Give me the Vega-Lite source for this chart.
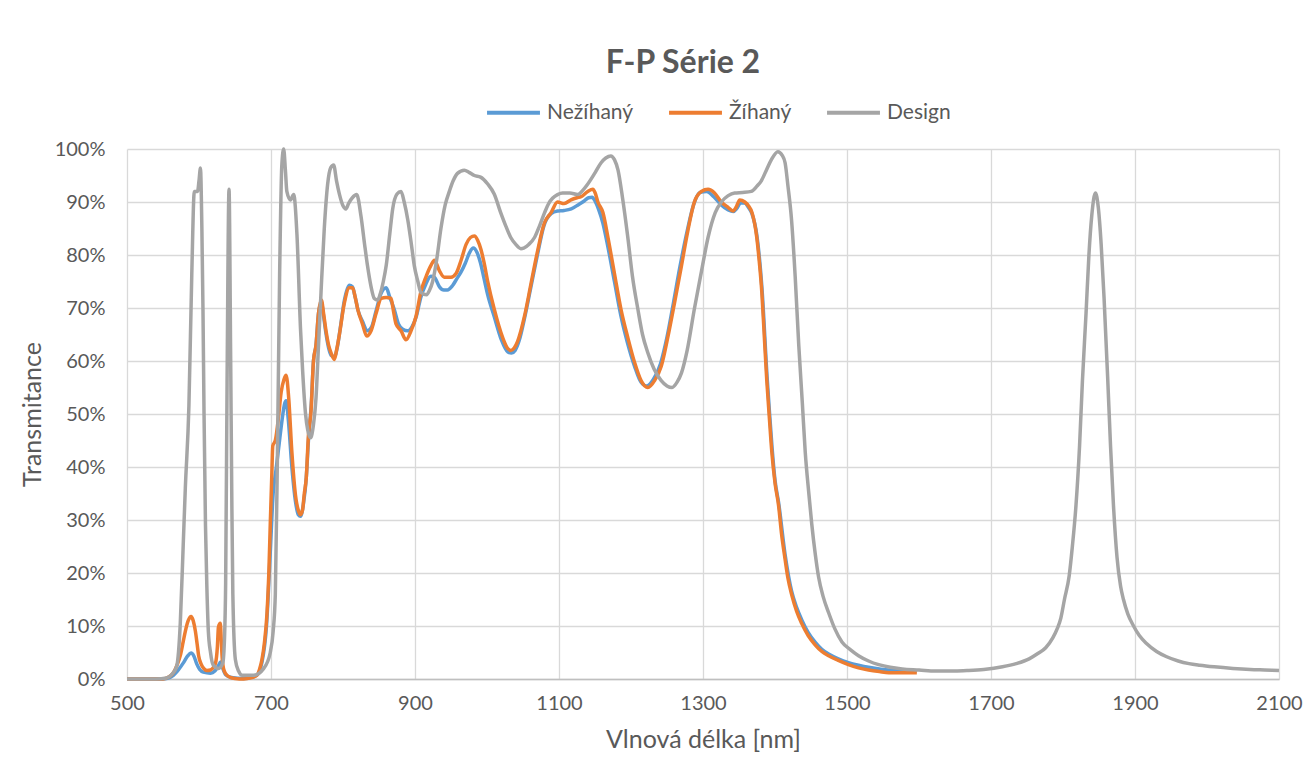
{
  "$schema": "https://vega.github.io/schema/vega-lite/v6.json",
  "autosize": "none",
  "width": 1152,
  "height": 530,
  "padding": {"left": 127, "top": 149, "right": 28, "bottom": 99},
  "background": "white",
  "title": {"text": "F-P Série 2", "fontSize": 32, "fontWeight": "bold", "color": "#595959", "font": "Lato", "anchor": "middle", "dx": -20, "offset": 4},
  "config": {
    "view": {"stroke": null},
    "font": "Lato",
    "axis": {"labelColor": "#595959", "titleColor": "#595959", "labelFont": "Lato", "titleFont": "Lato", "gridColor": "#d9d9d9", "gridWidth": 1.3, "ticks": false, "titleFontWeight": "normal"},
    "legend": {"labelFont": "Lato"}
  },
  "datasets": {
    "d": [
      {"s":"Design","x":500,"y":0},{"s":"Design","x":540,"y":0},{"s":"Design","x":555,"y":0.2},{"s":"Design","x":563,"y":1},{"s":"Design","x":569,"y":2.4},{"s":"Design","x":574,"y":10.5},{"s":"Design","x":578,"y":25},{"s":"Design","x":581,"y":36},{"s":"Design","x":586,"y":51.6},{"s":"Design","x":590,"y":76.5},{"s":"Design","x":593.5,"y":92},{"s":"Design","x":598,"y":92},{"s":"Design","x":600,"y":94},{"s":"Design","x":602,"y":96.4},{"s":"Design","x":604,"y":85},{"s":"Design","x":605.5,"y":70},{"s":"Design","x":607,"y":50},{"s":"Design","x":609,"y":29},{"s":"Design","x":611,"y":17},{"s":"Design","x":613,"y":9},{"s":"Design","x":616,"y":5},{"s":"Design","x":619.5,"y":2.7},{"s":"Design","x":627,"y":2},{"s":"Design","x":633,"y":3},{"s":"Design","x":635.5,"y":8},{"s":"Design","x":637,"y":18},{"s":"Design","x":639,"y":56},{"s":"Design","x":641.7,"y":92.4},{"s":"Design","x":644,"y":60},{"s":"Design","x":645.5,"y":35},{"s":"Design","x":647,"y":16},{"s":"Design","x":650.5,"y":3.7},{"s":"Design","x":655,"y":1.5},{"s":"Design","x":660,"y":0.7},{"s":"Design","x":676,"y":0.7},{"s":"Design","x":690,"y":2},{"s":"Design","x":699,"y":5},{"s":"Design","x":703,"y":9},{"s":"Design","x":706,"y":16},{"s":"Design","x":709,"y":43},{"s":"Design","x":712,"y":76.5},{"s":"Design","x":715,"y":96.8},{"s":"Design","x":717.6,"y":100},{"s":"Design","x":720,"y":96},{"s":"Design","x":722,"y":92},{"s":"Design","x":727,"y":90.4},{"s":"Design","x":731.5,"y":91.4},{"s":"Design","x":736,"y":84},{"s":"Design","x":741,"y":66},{"s":"Design","x":744,"y":58},{"s":"Design","x":748,"y":50},{"s":"Design","x":751,"y":47},{"s":"Design","x":755,"y":45.5},{"s":"Design","x":759,"y":48},{"s":"Design","x":762.5,"y":53},{"s":"Design","x":766,"y":63},{"s":"Design","x":769.5,"y":73},{"s":"Design","x":774,"y":85},{"s":"Design","x":778.7,"y":93.4},{"s":"Design","x":783,"y":96.5},{"s":"Design","x":787,"y":97},{"s":"Design","x":791,"y":94},{"s":"Design","x":795,"y":91.5},{"s":"Design","x":800,"y":89.3},{"s":"Design","x":804,"y":88.7},{"s":"Design","x":808,"y":89.8},{"s":"Design","x":813,"y":90.8},{"s":"Design","x":819,"y":91.4},{"s":"Design","x":825,"y":87.3},{"s":"Design","x":830,"y":82},{"s":"Design","x":834,"y":78},{"s":"Design","x":839,"y":74},{"s":"Design","x":843.5,"y":71.8},{"s":"Design","x":848,"y":71.5},{"s":"Design","x":852,"y":72.8},{"s":"Design","x":856,"y":75},{"s":"Design","x":860,"y":78},{"s":"Design","x":865,"y":84},{"s":"Design","x":869,"y":88.7},{"s":"Design","x":875,"y":91.5},{"s":"Design","x":880.6,"y":92},{"s":"Design","x":885,"y":90},{"s":"Design","x":890,"y":86.6},{"s":"Design","x":895,"y":82},{"s":"Design","x":899,"y":78},{"s":"Design","x":904,"y":75},{"s":"Design","x":908,"y":73},{"s":"Design","x":916,"y":72.5},{"s":"Design","x":920,"y":73.3},{"s":"Design","x":924.5,"y":75},{"s":"Design","x":930,"y":79},{"s":"Design","x":936,"y":85},{"s":"Design","x":942,"y":89.5},{"s":"Design","x":947.7,"y":92},{"s":"Design","x":953,"y":94},{"s":"Design","x":959,"y":95.4},{"s":"Design","x":968.5,"y":96},{"s":"Design","x":975,"y":95.6},{"s":"Design","x":982.5,"y":95},{"s":"Design","x":991,"y":94.7},{"s":"Design","x":1001,"y":93.4},{"s":"Design","x":1010,"y":91.5},{"s":"Design","x":1019,"y":88},{"s":"Design","x":1026,"y":85.5},{"s":"Design","x":1033,"y":83.3},{"s":"Design","x":1040,"y":82},{"s":"Design","x":1047,"y":81.2},{"s":"Design","x":1051,"y":81.3},{"s":"Design","x":1058,"y":82},{"s":"Design","x":1066,"y":83.3},{"s":"Design","x":1073,"y":85.5},{"s":"Design","x":1080,"y":88},{"s":"Design","x":1086,"y":89.8},{"s":"Design","x":1091,"y":90.7},{"s":"Design","x":1098,"y":91.4},{"s":"Design","x":1105,"y":91.7},{"s":"Design","x":1115,"y":91.7},{"s":"Design","x":1126,"y":91.4},{"s":"Design","x":1133,"y":92.2},{"s":"Design","x":1140,"y":93.4},{"s":"Design","x":1150,"y":95.5},{"s":"Design","x":1158.5,"y":97.4},{"s":"Design","x":1165,"y":98.3},{"s":"Design","x":1172,"y":98.7},{"s":"Design","x":1177,"y":98},{"s":"Design","x":1182,"y":96},{"s":"Design","x":1188,"y":91},{"s":"Design","x":1195.6,"y":83.3},{"s":"Design","x":1202,"y":76},{"s":"Design","x":1209.5,"y":69.8},{"s":"Design","x":1216,"y":65},{"s":"Design","x":1223,"y":61.7},{"s":"Design","x":1232,"y":58.5},{"s":"Design","x":1242,"y":56.3},{"s":"Design","x":1250,"y":55.3},{"s":"Design","x":1257,"y":55},{"s":"Design","x":1264,"y":56},{"s":"Design","x":1270,"y":57.7},{"s":"Design","x":1278,"y":62},{"s":"Design","x":1288,"y":69.8},{"s":"Design","x":1298,"y":77},{"s":"Design","x":1307,"y":83.3},{"s":"Design","x":1317,"y":88},{"s":"Design","x":1325.5,"y":90},{"s":"Design","x":1335,"y":91.2},{"s":"Design","x":1344,"y":91.7},{"s":"Design","x":1355,"y":91.8},{"s":"Design","x":1367,"y":92},{"s":"Design","x":1375,"y":93},{"s":"Design","x":1381,"y":94},{"s":"Design","x":1388,"y":96},{"s":"Design","x":1395,"y":98},{"s":"Design","x":1404,"y":99.5},{"s":"Design","x":1410,"y":98.8},{"s":"Design","x":1414,"y":97.4},{"s":"Design","x":1418,"y":93},{"s":"Design","x":1423,"y":86.6},{"s":"Design","x":1428,"y":76},{"s":"Design","x":1433,"y":63},{"s":"Design","x":1438,"y":52},{"s":"Design","x":1442,"y":42.8},{"s":"Design","x":1447,"y":35},{"s":"Design","x":1451,"y":29.3},{"s":"Design","x":1456,"y":23.5},{"s":"Design","x":1460.6,"y":19.2},{"s":"Design","x":1467,"y":15.5},{"s":"Design","x":1474.5,"y":12.5},{"s":"Design","x":1483,"y":9.5},{"s":"Design","x":1493,"y":7},{"s":"Design","x":1505,"y":5.5},{"s":"Design","x":1516,"y":4.4},{"s":"Design","x":1530,"y":3.4},{"s":"Design","x":1544,"y":2.7},{"s":"Design","x":1560,"y":2.2},{"s":"Design","x":1576.6,"y":1.9},{"s":"Design","x":1600,"y":1.7},{"s":"Design","x":1623,"y":1.5},{"s":"Design","x":1650,"y":1.5},{"s":"Design","x":1669,"y":1.6},{"s":"Design","x":1690,"y":1.8},{"s":"Design","x":1716,"y":2.3},{"s":"Design","x":1735,"y":2.9},{"s":"Design","x":1753,"y":3.8},{"s":"Design","x":1765,"y":4.8},{"s":"Design","x":1776,"y":5.9},{"s":"Design","x":1786,"y":7.8},{"s":"Design","x":1792,"y":9.5},{"s":"Design","x":1797,"y":11.5},{"s":"Design","x":1802,"y":15},{"s":"Design","x":1808.6,"y":19.5},{"s":"Design","x":1813,"y":25},{"s":"Design","x":1818,"y":32.7},{"s":"Design","x":1823,"y":44},{"s":"Design","x":1827,"y":56.3},{"s":"Design","x":1832,"y":69},{"s":"Design","x":1836,"y":80},{"s":"Design","x":1840,"y":87.5},{"s":"Design","x":1845,"y":91.7},{"s":"Design","x":1849,"y":89},{"s":"Design","x":1853,"y":82},{"s":"Design","x":1857,"y":72},{"s":"Design","x":1862,"y":57},{"s":"Design","x":1866,"y":44},{"s":"Design","x":1870,"y":33},{"s":"Design","x":1875,"y":23},{"s":"Design","x":1880,"y":17.5},{"s":"Design","x":1884,"y":15},{"s":"Design","x":1890,"y":12.3},{"s":"Design","x":1898,"y":10},{"s":"Design","x":1906,"y":8.2},{"s":"Design","x":1916,"y":6.7},{"s":"Design","x":1930,"y":5.2},{"s":"Design","x":1944,"y":4.2},{"s":"Design","x":1960,"y":3.4},{"s":"Design","x":1975,"y":2.9},{"s":"Design","x":1990,"y":2.6},{"s":"Design","x":2010,"y":2.3},{"s":"Design","x":2036,"y":2},{"s":"Design","x":2060,"y":1.8},{"s":"Design","x":2080,"y":1.7},{"s":"Design","x":2100,"y":1.6},

      {"s":"Žíhaný","x":500,"y":0},{"s":"Žíhaný","x":550,"y":0},{"s":"Žíhaný","x":558,"y":0.4},{"s":"Žíhaný","x":565,"y":1.3},{"s":"Žíhaný","x":570,"y":2.8},{"s":"Žíhaný","x":574,"y":4.4},{"s":"Žíhaný","x":578,"y":7},{"s":"Žíhaný","x":581,"y":9},{"s":"Žíhaný","x":585,"y":11},{"s":"Žíhaný","x":589,"y":11.8},{"s":"Žíhaný","x":592,"y":11},{"s":"Žíhaný","x":595,"y":9},{"s":"Žíhaný","x":597.5,"y":6.5},{"s":"Žíhaný","x":599.5,"y":4.4},{"s":"Žíhaný","x":603,"y":2.8},{"s":"Žíhaný","x":606.5,"y":2},{"s":"Žíhaný","x":611,"y":1.6},{"s":"Žíhaný","x":616,"y":1.7},{"s":"Žíhaný","x":620,"y":2.2},{"s":"Žíhaný","x":623,"y":3},{"s":"Žíhaný","x":625.5,"y":6},{"s":"Žíhaný","x":627,"y":9.8},{"s":"Žíhaný","x":629.6,"y":10.5},{"s":"Žíhaný","x":631,"y":7},{"s":"Žíhaný","x":632,"y":4.4},{"s":"Žíhaný","x":634,"y":2},{"s":"Žíhaný","x":637,"y":1},{"s":"Žíhaný","x":643.5,"y":0.3},{"s":"Žíhaný","x":650,"y":0.1},{"s":"Žíhaný","x":662,"y":0},{"s":"Žíhaný","x":672,"y":0.2},{"s":"Žíhaný","x":680.6,"y":0.7},{"s":"Žíhaný","x":684,"y":1.8},{"s":"Žíhaný","x":687.5,"y":3.7},{"s":"Žíhaný","x":691,"y":7},{"s":"Žíhaný","x":694.5,"y":12.5},{"s":"Žíhaný","x":697,"y":20},{"s":"Žíhaný","x":699,"y":29.3},{"s":"Žíhaný","x":701,"y":38},{"s":"Žíhaný","x":702.5,"y":44},{"s":"Žíhaný","x":706,"y":45},{"s":"Žíhaný","x":710.6,"y":49.6},{"s":"Žíhaný","x":714,"y":54},{"s":"Žíhaný","x":718,"y":56.5},{"s":"Žíhaný","x":721,"y":57.3},{"s":"Žíhaný","x":724.6,"y":53},{"s":"Žíhaný","x":729,"y":42.8},{"s":"Žíhaný","x":734,"y":34.7},{"s":"Žíhaný","x":738,"y":31.8},{"s":"Žíhaný","x":741,"y":31},{"s":"Žíhaný","x":744,"y":32},{"s":"Žíhaný","x":746,"y":34.7},{"s":"Žíhaný","x":749,"y":38},{"s":"Žíhaný","x":752,"y":46},{"s":"Žíhaný","x":755.6,"y":50.5},{"s":"Žíhaný","x":759,"y":60},{"s":"Žíhaný","x":762.5,"y":63},{"s":"Žíhaný","x":766,"y":69},{"s":"Žíhaný","x":770,"y":71.5},{"s":"Žíhaný","x":773,"y":69},{"s":"Žíhaný","x":776.4,"y":65.7},{"s":"Žíhaný","x":780,"y":63},{"s":"Žíhaný","x":783,"y":61.7},{"s":"Žíhaný","x":788,"y":60.3},{"s":"Žíhaný","x":791,"y":62},{"s":"Žíhaný","x":795,"y":65},{"s":"Žíhaný","x":802,"y":71},{"s":"Žíhaný","x":808.8,"y":73.8},{"s":"Žíhaný","x":813.4,"y":73.8},{"s":"Žíhaný","x":817,"y":72},{"s":"Žíhaný","x":820.4,"y":69.8},{"s":"Žíhaný","x":827,"y":67},{"s":"Žíhaný","x":833,"y":64.7},{"s":"Žíhaný","x":839,"y":65.7},{"s":"Žíhaný","x":846,"y":69},{"s":"Žíhaný","x":853,"y":71.8},{"s":"Žíhaný","x":860,"y":72},{"s":"Žíhaný","x":866.7,"y":71.8},{"s":"Žíhaný","x":870,"y":69.5},{"s":"Žíhaný","x":873.6,"y":67},{"s":"Žíhaný","x":880.6,"y":65.7},{"s":"Žíhaný","x":887.5,"y":64},{"s":"Žíhaný","x":894.5,"y":65.7},{"s":"Žíhaný","x":901.4,"y":68.4},{"s":"Žíhaný","x":908,"y":73},{"s":"Žíhaný","x":915,"y":75.8},{"s":"Žíhaný","x":922,"y":78},{"s":"Žíhaný","x":927,"y":79},{"s":"Žíhaný","x":934,"y":77},{"s":"Žíhaný","x":940.8,"y":75.8},{"s":"Žíhaný","x":950,"y":75.8},{"s":"Žíhaný","x":957,"y":76.5},{"s":"Žíhaný","x":964,"y":79},{"s":"Žíhaný","x":971,"y":82},{"s":"Žíhaný","x":977,"y":83.3},{"s":"Žíhaný","x":982.5,"y":83.6},{"s":"Žíhaný","x":987,"y":82.8},{"s":"Žíhaný","x":991.7,"y":81},{"s":"Žíhaný","x":996,"y":78.5},{"s":"Žíhaný","x":1001,"y":75},{"s":"Žíhaný","x":1010,"y":69.8},{"s":"Žíhaný","x":1021.8,"y":64.4},{"s":"Žíhaný","x":1028.5,"y":62.4},{"s":"Žíhaný","x":1033,"y":62},{"s":"Žíhaný","x":1038,"y":62.5},{"s":"Žíhaný","x":1042.5,"y":63.7},{"s":"Žíhaný","x":1052,"y":68.4},{"s":"Žíhaný","x":1061,"y":74.5},{"s":"Žíhaný","x":1070,"y":80.6},{"s":"Žíhaný","x":1079.6,"y":86},{"s":"Žíhaný","x":1089,"y":88},{"s":"Žíhaný","x":1098,"y":90},{"s":"Žíhaný","x":1107,"y":89.7},{"s":"Žíhaný","x":1116.7,"y":90.4},{"s":"Žíhaný","x":1125,"y":90.8},{"s":"Žíhaný","x":1130.6,"y":91},{"s":"Žíhaný","x":1140,"y":92},{"s":"Žíhaný","x":1147,"y":92.4},{"s":"Žíhaný","x":1150,"y":91.8},{"s":"Žíhaný","x":1154,"y":90},{"s":"Žíhaný","x":1161,"y":88},{"s":"Žíhaný","x":1168,"y":83.3},{"s":"Žíhaný","x":1177,"y":76.5},{"s":"Žíhaný","x":1186,"y":69.8},{"s":"Žíhaný","x":1195.6,"y":64.4},{"s":"Žíhaný","x":1205,"y":59.7},{"s":"Žíhaný","x":1214,"y":56.3},{"s":"Žíhaný","x":1223.4,"y":55},{"s":"Žíhaný","x":1232.7,"y":56.3},{"s":"Žíhaný","x":1242,"y":59},{"s":"Žíhaný","x":1251,"y":64.4},{"s":"Žíhaný","x":1260.5,"y":71},{"s":"Žíhaný","x":1270,"y":77.9},{"s":"Žíhaný","x":1279,"y":84.6},{"s":"Žíhaný","x":1288,"y":90},{"s":"Žíhaný","x":1297.7,"y":92},{"s":"Žíhaný","x":1307,"y":92.4},{"s":"Žíhaný","x":1316,"y":91.7},{"s":"Žíhaný","x":1325.5,"y":90},{"s":"Žíhaný","x":1334.8,"y":89},{"s":"Žíhaný","x":1341.7,"y":88.3},{"s":"Žíhaný","x":1346,"y":89},{"s":"Žíhaný","x":1351,"y":90.4},{"s":"Žíhaný","x":1358,"y":90},{"s":"Žíhaný","x":1363,"y":89.3},{"s":"Žíhaný","x":1368,"y":88},{"s":"Žíhaný","x":1374.7,"y":83.3},{"s":"Žíhaný","x":1378,"y":79},{"s":"Žíhaný","x":1381.7,"y":73},{"s":"Žíhaný","x":1385,"y":65},{"s":"Žíhaný","x":1388.6,"y":56.3},{"s":"Žíhaný","x":1392,"y":49.6},{"s":"Žíhaný","x":1395.6,"y":42.8},{"s":"Žíhaný","x":1400,"y":37},{"s":"Žíhaný","x":1405,"y":32.7},{"s":"Žíhaný","x":1409,"y":27.5},{"s":"Žíhaný","x":1414,"y":22.6},{"s":"Žíhaný","x":1418,"y":19},{"s":"Žíhaný","x":1423.4,"y":15.8},{"s":"Žíhaný","x":1430,"y":12.8},{"s":"Žíhaný","x":1437,"y":10.5},{"s":"Žíhaný","x":1446,"y":8.2},{"s":"Žíhaný","x":1456,"y":6.4},{"s":"Žíhaný","x":1465,"y":5.2},{"s":"Žíhaný","x":1474.5,"y":4.4},{"s":"Žíhaný","x":1488,"y":3.5},{"s":"Žíhaný","x":1502,"y":2.7},{"s":"Žíhaný","x":1516,"y":2.1},{"s":"Žíhaný","x":1530,"y":1.7},{"s":"Žíhaný","x":1545,"y":1.4},{"s":"Žíhaný","x":1558,"y":1.2},{"s":"Žíhaný","x":1580,"y":1.2},{"s":"Žíhaný","x":1597,"y":1.2},

      {"s":"Nežíhaný","x":500,"y":0},{"s":"Nežíhaný","x":550,"y":0},{"s":"Nežíhaný","x":560,"y":0.3},{"s":"Nežíhaný","x":570,"y":1.5},{"s":"Nežíhaný","x":578,"y":3},{"s":"Nežíhaný","x":584,"y":4.3},{"s":"Nežíhaný","x":589,"y":4.9},{"s":"Nežíhaný","x":593,"y":4.3},{"s":"Nežíhaný","x":597,"y":2.8},{"s":"Nežíhaný","x":601,"y":1.8},{"s":"Nežíhaný","x":606,"y":1.3},{"s":"Nežíhaný","x":616,"y":1.1},{"s":"Nežíhaný","x":622,"y":1.5},{"s":"Nežíhaný","x":627,"y":2.5},{"s":"Nežíhaný","x":630,"y":3.2},{"s":"Nežíhaný","x":633,"y":2},{"s":"Nežíhaný","x":637,"y":0.8},{"s":"Nežíhaný","x":645,"y":0.3},{"s":"Nežíhaný","x":662,"y":0.1},{"s":"Nežíhaný","x":680,"y":0.7},{"s":"Nežíhaný","x":687.5,"y":3.2},{"s":"Nežíhaný","x":694,"y":10.5},{"s":"Nežíhaný","x":699,"y":24},{"s":"Nežíhaný","x":703,"y":35},{"s":"Nežíhaný","x":707,"y":39.5},{"s":"Nežíhaný","x":711,"y":44},{"s":"Nežíhaný","x":715,"y":48.5},{"s":"Nežíhaný","x":719,"y":52},{"s":"Nežíhaný","x":721,"y":52.5},{"s":"Nežíhaný","x":724,"y":49},{"s":"Nežíhaný","x":729,"y":40},{"s":"Nežíhaný","x":734,"y":33.5},{"s":"Nežíhaný","x":738,"y":31},{"s":"Nežíhaný","x":741,"y":30.7},{"s":"Nežíhaný","x":745,"y":33},{"s":"Nežíhaný","x":749,"y":38},{"s":"Nežíhaný","x":752,"y":45},{"s":"Nežíhaný","x":756,"y":52},{"s":"Nežíhaný","x":759,"y":60},{"s":"Nežíhaný","x":762.5,"y":63},{"s":"Nežíhaný","x":766,"y":69},{"s":"Nežíhaný","x":770,"y":71},{"s":"Nežíhaný","x":773,"y":68.5},{"s":"Nežíhaný","x":776,"y":65.5},{"s":"Nežíhaný","x":780,"y":62.5},{"s":"Nežíhaný","x":784,"y":61},{"s":"Nežíhaný","x":788,"y":60.8},{"s":"Nežíhaný","x":792,"y":62.5},{"s":"Nežíhaný","x":796,"y":66},{"s":"Nežíhaný","x":802,"y":71.5},{"s":"Nežíhaný","x":808.8,"y":74.3},{"s":"Nežíhaný","x":813,"y":74},{"s":"Nežíhaný","x":817,"y":72},{"s":"Nežíhaný","x":821,"y":69.5},{"s":"Nežíhaný","x":827,"y":67.5},{"s":"Nežíhaný","x":834,"y":65.7},{"s":"Nežíhaný","x":840,"y":66.5},{"s":"Nežíhaný","x":846,"y":69.5},{"s":"Nežíhaný","x":853,"y":72.8},{"s":"Nežíhaný","x":860,"y":73.8},{"s":"Nežíhaný","x":865,"y":72},{"s":"Nežíhaný","x":871,"y":69.8},{"s":"Nežíhaný","x":877,"y":67},{"s":"Nežíhaný","x":883,"y":66},{"s":"Nežíhaný","x":890,"y":65.7},{"s":"Nežíhaný","x":896,"y":66.5},{"s":"Nežíhaný","x":902,"y":68.5},{"s":"Nežíhaný","x":908,"y":72},{"s":"Nežíhaný","x":915,"y":74.5},{"s":"Nežíhaný","x":922,"y":76},{"s":"Nežíhaný","x":927,"y":75.8},{"s":"Nežíhaný","x":934,"y":74},{"s":"Nežíhaný","x":940,"y":73.4},{"s":"Nežíhaný","x":945,"y":73.4},{"s":"Nežíhaný","x":952,"y":74.2},{"s":"Nežíhaný","x":958,"y":75.5},{"s":"Nežíhaný","x":964,"y":76.8},{"s":"Nežíhaný","x":970,"y":78.5},{"s":"Nežíhaný","x":976,"y":80.5},{"s":"Nežíhaný","x":981,"y":81.3},{"s":"Nežíhaný","x":986,"y":80.5},{"s":"Nežíhaný","x":991,"y":78.5},{"s":"Nežíhaný","x":996,"y":75.5},{"s":"Nežíhaný","x":1001,"y":72.5},{"s":"Nežíhaný","x":1010,"y":68.4},{"s":"Nežíhaný","x":1020,"y":64},{"s":"Nežíhaný","x":1029,"y":61.7},{"s":"Nežíhaný","x":1034,"y":61.5},{"s":"Nežíhaný","x":1039,"y":62},{"s":"Nežíhaný","x":1045,"y":64},{"s":"Nežíhaný","x":1052,"y":68},{"s":"Nežíhaný","x":1061,"y":74},{"s":"Nežíhaný","x":1070,"y":80},{"s":"Nežíhaný","x":1079,"y":85.5},{"s":"Nežíhaný","x":1089,"y":87.8},{"s":"Nežíhaný","x":1098,"y":88.3},{"s":"Nežíhaný","x":1107,"y":88.4},{"s":"Nežíhaný","x":1117,"y":88.7},{"s":"Nežíhaný","x":1127,"y":89.5},{"s":"Nežíhaný","x":1135,"y":90.2},{"s":"Nežíhaný","x":1141,"y":90.8},{"s":"Nežíhaný","x":1146,"y":90.9},{"s":"Nežíhaný","x":1150,"y":90.2},{"s":"Nežíhaný","x":1155,"y":88.6},{"s":"Nežíhaný","x":1161,"y":86},{"s":"Nežíhaný","x":1168,"y":81.5},{"s":"Nežíhaný","x":1177,"y":75},{"s":"Nežíhaný","x":1186,"y":68.5},{"s":"Nežíhaný","x":1195,"y":63.5},{"s":"Nežíhaný","x":1205,"y":59},{"s":"Nežíhaný","x":1214,"y":56},{"s":"Nežíhaný","x":1222,"y":55.3},{"s":"Nežíhaný","x":1231,"y":56.5},{"s":"Nežíhaný","x":1241,"y":59.5},{"s":"Nežíhaný","x":1250,"y":64.5},{"s":"Nežíhaný","x":1259,"y":71},{"s":"Nežíhaný","x":1268,"y":77.8},{"s":"Nežíhaný","x":1278,"y":84.5},{"s":"Nežíhaný","x":1287,"y":89.5},{"s":"Nežíhaný","x":1296,"y":91.8},{"s":"Nežíhaný","x":1305,"y":92},{"s":"Nežíhaný","x":1315,"y":91},{"s":"Nežíhaný","x":1325,"y":89.5},{"s":"Nežíhaný","x":1335,"y":88.5},{"s":"Nežíhaný","x":1342,"y":88.2},{"s":"Nežíhaný","x":1347,"y":88.8},{"s":"Nežíhaný","x":1352,"y":89.8},{"s":"Nežíhaný","x":1358,"y":89.8},{"s":"Nežíhaný","x":1363,"y":89},{"s":"Nežíhaný","x":1368,"y":87.8},{"s":"Nežíhaný","x":1375,"y":83.5},{"s":"Nežíhaný","x":1382,"y":73.5},{"s":"Nežíhaný","x":1389,"y":57},{"s":"Nežíhaný","x":1392.5,"y":50},{"s":"Nežíhaný","x":1396,"y":43.5},{"s":"Nežíhaný","x":1400,"y":37.5},{"s":"Nežíhaný","x":1405,"y":33.3},{"s":"Nežíhaný","x":1414,"y":23.5},{"s":"Nežíhaný","x":1423,"y":16.6},{"s":"Nežíhaný","x":1430,"y":13.5},{"s":"Nežíhaný","x":1437,"y":11.2},{"s":"Nežíhaný","x":1446,"y":8.8},{"s":"Nežíhaný","x":1456,"y":6.9},{"s":"Nežíhaný","x":1465,"y":5.6},{"s":"Nežíhaný","x":1474.5,"y":4.7},{"s":"Nežíhaný","x":1488,"y":3.8},{"s":"Nežíhaný","x":1502,"y":3.1},{"s":"Nežíhaný","x":1516,"y":2.6},{"s":"Nežíhaný","x":1530,"y":2.2},{"s":"Nežíhaný","x":1545,"y":1.9},{"s":"Nežíhaný","x":1558,"y":1.7},{"s":"Nežíhaný","x":1580,"y":1.6},{"s":"Nežíhaný","x":1597,"y":1.5}
    ]
  },
  "data": {"name": "d"},
  "encoding": {
    "x": {"field": "x", "type": "quantitative",
      "scale": {"domain": [500, 2100], "nice": false, "zero": false},
      "axis": {"values": [500,700,900,1100,1300,1500,1700,1900,2100], "format": "d", "title": "Vlnová délka [nm]", "titleFontSize": 25, "labelFontSize": 20, "labelPadding": 14, "titlePadding": 14, "domainColor": "#bfbfbf", "domainWidth": 1.3, "grid": true, "labelFlush": false}},
    "y": {"field": "y", "type": "quantitative",
      "scale": {"domain": [0, 100], "nice": false},
      "axis": {"values": [0,10,20,30,40,50,60,70,80,90,100], "labelExpr": "datum.value + '%'", "title": "Transmitance", "titleFontSize": 25, "labelFontSize": 20, "labelPadding": 22, "titlePadding": 9, "domain": false, "grid": true}},
    "color": {"field": "s", "type": "nominal",
      "scale": {"domain": ["Nežíhaný", "Žíhaný", "Design"], "range": ["#5B9BD5", "#ED7D31", "#A5A5A5"]},
      "legend": {"title": null, "orient": "none", "legendX": 358, "legendY": -65, "direction": "horizontal", "symbolType": "stroke", "symbolSize": 2800, "symbolStrokeWidth": 4, "labelFontSize": 21, "labelColor": "#595959", "columnPadding": 27, "labelOffset": 5}}
  },
  "layer": [
    {"transform": [{"filter": "datum.s === 'Nežíhaný'"}], "mark": {"type": "line", "strokeWidth": 3.5, "interpolate": "monotone"}},
    {"transform": [{"filter": "datum.s === 'Žíhaný'"}], "mark": {"type": "line", "strokeWidth": 3.5, "interpolate": "monotone"}},
    {"transform": [{"filter": "datum.s === 'Design'"}], "mark": {"type": "line", "strokeWidth": 3.5, "interpolate": "monotone"}}
  ]
}
